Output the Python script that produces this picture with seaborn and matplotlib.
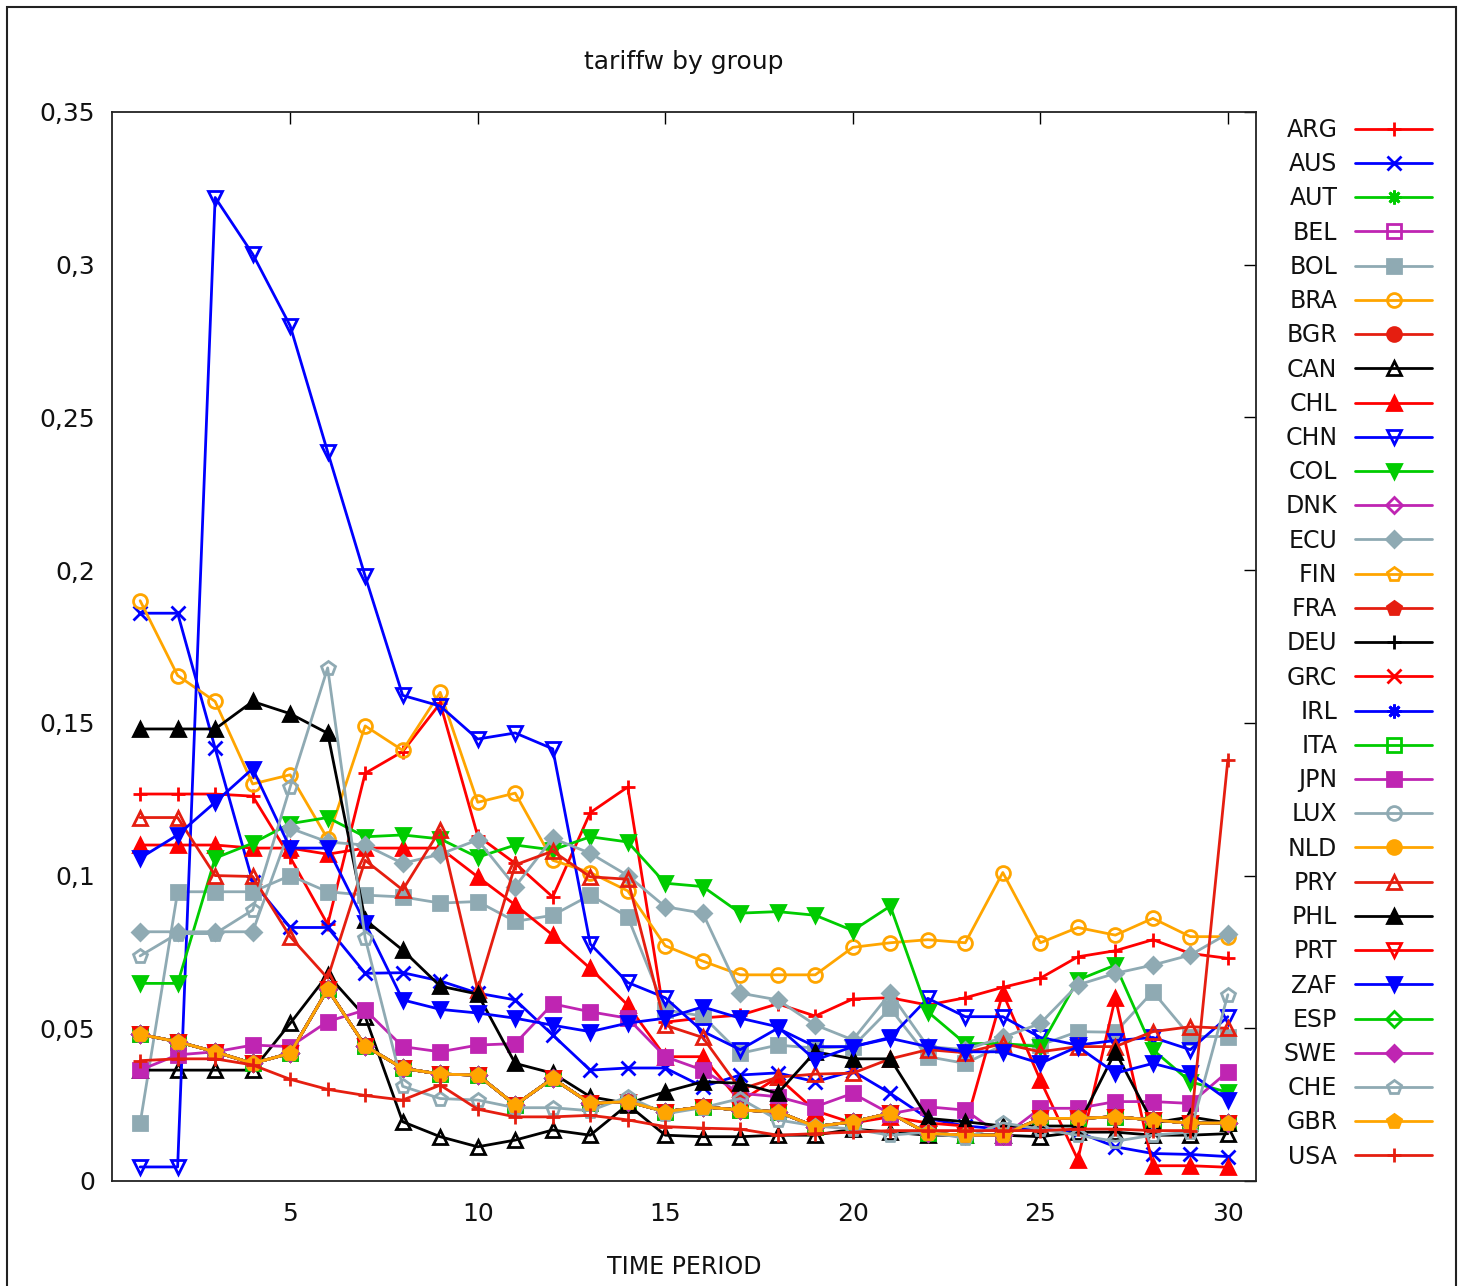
import numpy as np
import pandas as pd
import matplotlib
matplotlib.use("Agg")
import matplotlib.pyplot as plt
import seaborn as sns
from matplotlib.patches import Rectangle

# ---------------------------------------------------------------- data
periods = list(range(1, 31))

countries = ["ARG", "AUS", "AUT", "BEL", "BOL", "BRA", "BGR", "CAN", "CHL", "CHN",
             "COL", "DNK", "ECU", "FIN", "FRA", "DEU", "GRC", "IRL", "ITA", "JPN",
             "LUX", "NLD", "PRY", "PHL", "PRT", "ZAF", "ESP", "SWE", "CHE", "GBR", "USA"]

# common external tariff shared by the EU members
eu_tariff = [0.048, 0.0456, 0.0423, 0.0385, 0.0418, 0.0628, 0.0442, 0.0369, 0.035, 0.0347,
             0.0249, 0.0336, 0.0254, 0.026, 0.0227, 0.0243, 0.0232, 0.0227, 0.0178, 0.0194,
             0.0222, 0.0156, 0.015, 0.015, 0.0205, 0.0205, 0.021, 0.020, 0.0189, 0.019]

arg = [0.1267, 0.1267, 0.1267, 0.126, 0.106, 0.084, 0.1335, 0.1406, 0.1564, 0.113,
       0.104, 0.093, 0.1206, 0.129, 0.052, 0.0534, 0.0543, 0.058, 0.054, 0.0596,
       0.060, 0.0576, 0.060, 0.0634, 0.0664, 0.0734, 0.0754, 0.079, 0.0745, 0.0729]
aus = [0.1859, 0.1859, 0.1417, 0.098, 0.083, 0.083, 0.068, 0.0682, 0.0655, 0.0615,
       0.0593, 0.0478, 0.0363, 0.037, 0.037, 0.0309, 0.0347, 0.0354, 0.0325, 0.036,
       0.0287, 0.0205, 0.018, 0.017, 0.017, 0.016, 0.0112, 0.009, 0.0087, 0.008]
bol = [0.0189, 0.0947, 0.0947, 0.0947, 0.100, 0.0947, 0.0936, 0.093, 0.091, 0.0915,
       0.085, 0.087, 0.0936, 0.0865, 0.056, 0.054, 0.0418, 0.0445, 0.0435, 0.044,
       0.0565, 0.0407, 0.0385, 0.0445, 0.0445, 0.0489, 0.0487, 0.062, 0.0473, 0.0473]
bra = [0.190, 0.1655, 0.157, 0.130, 0.133, 0.112, 0.149, 0.141, 0.160, 0.124,
       0.127, 0.105, 0.101, 0.095, 0.077, 0.072, 0.0675, 0.0675, 0.0675, 0.0765,
       0.078, 0.079, 0.078, 0.101, 0.078, 0.083, 0.0805, 0.086, 0.080, 0.080]
can = [0.0363, 0.0363, 0.0363, 0.0363, 0.0516, 0.0675, 0.0538, 0.0194, 0.0145, 0.0112,
       0.0134, 0.0167, 0.015, 0.025, 0.015, 0.0145, 0.0145, 0.015, 0.015, 0.017,
       0.016, 0.015, 0.015, 0.015, 0.0145, 0.016, 0.016, 0.015, 0.015, 0.0155]
chl = [0.110, 0.110, 0.110, 0.109, 0.109, 0.107, 0.109, 0.109, 0.109, 0.0996,
       0.0904, 0.0805, 0.0696, 0.0576, 0.0407, 0.0407, 0.026, 0.034, 0.023, 0.019,
       0.021, 0.019, 0.018, 0.0615, 0.033, 0.007, 0.060, 0.005, 0.005, 0.0045]
chn = [0.0046, 0.0046, 0.322, 0.3035, 0.280, 0.2387, 0.198, 0.159, 0.1555, 0.1447,
       0.1467, 0.1415, 0.0776, 0.065, 0.060, 0.049, 0.043, 0.050, 0.044, 0.044,
       0.047, 0.0598, 0.0538, 0.0538, 0.047, 0.0445, 0.046, 0.047, 0.043, 0.0538]
col = [0.0647, 0.0647, 0.1057, 0.1106, 0.117, 0.119, 0.1127, 0.1133, 0.112, 0.106,
       0.110, 0.1084, 0.1127, 0.111, 0.0975, 0.0964, 0.0877, 0.0882, 0.087, 0.082,
       0.090, 0.0554, 0.045, 0.045, 0.044, 0.0658, 0.0707, 0.043, 0.0325, 0.029]
ecu = [0.0816, 0.0816, 0.0816, 0.0816, 0.1155, 0.111, 0.110, 0.104, 0.107, 0.1117,
       0.0964, 0.1122, 0.1073, 0.100, 0.0898, 0.0877, 0.0615, 0.0593, 0.0511, 0.0462,
       0.0615, 0.044, 0.043, 0.047, 0.0516, 0.0642, 0.068, 0.0707, 0.074, 0.081]
jpn = [0.0363, 0.0413, 0.0423, 0.0445, 0.044, 0.0522, 0.056, 0.044, 0.0423, 0.0445,
       0.045, 0.058, 0.0554, 0.0533, 0.0407, 0.0363, 0.0287, 0.0276, 0.0243, 0.0287,
       0.022, 0.0243, 0.0232, 0.0145, 0.0238, 0.0238, 0.026, 0.026, 0.0254, 0.0358]
pry = [0.119, 0.119, 0.100, 0.0997, 0.080, 0.0664, 0.105, 0.0953, 0.115, 0.0625,
       0.1035, 0.108, 0.0996, 0.0988, 0.051, 0.047, 0.030, 0.034, 0.035, 0.0353,
       0.040, 0.043, 0.042, 0.045, 0.0423, 0.044, 0.044, 0.0489, 0.0505, 0.050]
phl = [0.148, 0.148, 0.148, 0.157, 0.153, 0.1466, 0.0855, 0.0756, 0.0638, 0.0612,
       0.0385, 0.0353, 0.0276, 0.0254, 0.0292, 0.0325, 0.032, 0.0287, 0.0423, 0.040,
       0.040, 0.0205, 0.0194, 0.018, 0.018, 0.018, 0.0423, 0.019, 0.021, 0.019]
zaf = [0.1057, 0.1133, 0.124, 0.135, 0.109, 0.109, 0.0844, 0.0593, 0.0562, 0.055,
       0.0533, 0.051, 0.0489, 0.0517, 0.0533, 0.057, 0.0533, 0.0505, 0.0396, 0.044,
       0.0467, 0.044, 0.0423, 0.0423, 0.0385, 0.044, 0.0353, 0.0385, 0.0353, 0.0265]
che = [0.0737, 0.081, 0.081, 0.0887, 0.129, 0.168, 0.0795, 0.031, 0.027, 0.0265,
       0.024, 0.024, 0.023, 0.0276, 0.022, 0.024, 0.027, 0.020, 0.018, 0.017,
       0.015, 0.016, 0.014, 0.019, 0.017, 0.015, 0.013, 0.015, 0.016, 0.061]
usa = [0.0394, 0.040, 0.040, 0.038, 0.0333, 0.030, 0.028, 0.0265, 0.0314, 0.0235,
       0.021, 0.021, 0.0215, 0.020, 0.0178, 0.0173, 0.017, 0.015, 0.0155, 0.016,
       0.0165, 0.0165, 0.0165, 0.0165, 0.0165, 0.017, 0.017, 0.0165, 0.0165, 0.138]

eu_members = ["AUT", "BEL", "BGR", "DNK", "FIN", "FRA", "DEU", "GRC", "IRL", "ITA",
              "LUX", "NLD", "PRT", "ESP", "SWE", "GBR"]
series = {"ARG": arg, "AUS": aus, "BOL": bol, "BRA": bra, "CAN": can, "CHL": chl,
          "CHN": chn, "COL": col, "ECU": ecu, "JPN": jpn, "PRY": pry, "PHL": phl,
          "ZAF": zaf, "CHE": che, "USA": usa}
for m in eu_members:
    series[m] = eu_tariff

df = pd.DataFrame([(c, p, v) for c in countries for p, v in zip(periods, series[c])],
                  columns=["group", "period", "tariffw"])

# ---------------------------------------------------------------- style
line_colors = ["#ff0000", "#0000ff", "#00cc00", "#bf25b2",
               "#8faab3", "#ffa500", "#e51e10", "#000000"]
point_types = [("+", True), ("x", True), ((8, 2, 0), True), ("s", False), ("s", True),
               ("o", False), ("o", True), ("^", False), ("^", True), ("v", False),
               ("v", True), ("D", False), ("D", True), ("p", False), ("p", True)]

sns.set_theme(style="white")
plt.rcParams["font.family"] = ["DejaVu Sans"]

W, H = 1463, 1286
fig = plt.figure(figsize=(W / 100, H / 100), dpi=100)
ax = fig.add_axes([112 / W, 1 - 1181 / H, (1256 - 112) / W, (1181 - 112) / H])

for i, name in enumerate(countries):
    color = line_colors[i % 8]
    marker, filled = point_types[i % 15]
    msize = 8.5 if marker == "D" else 10
    sns.lineplot(data=df[df["group"] == name], x="period", y="tariffw", ax=ax,
                 color=color, marker=marker, markersize=msize,
                 markeredgecolor=color,
                 markerfacecolor=color if filled else "none",
                 markeredgewidth=2.0, linewidth=2.0, label=name,
                 errorbar=None, sort=True)

ax.set_xlim(0.25, 30.75)
ax.set_ylim(0, 0.35)
ax.set_xticks([5, 10, 15, 20, 25, 30])
yt = [0, 0.05, 0.1, 0.15, 0.2, 0.25, 0.3, 0.35]
ax.set_yticks(yt)
ax.set_yticklabels(["0", "0,05", "0,1", "0,15", "0,2", "0,25", "0,3", "0,35"])
ax.tick_params(direction="in", length=8.6, width=1.0, color="black",
               top=True, right=True, labelsize=18, labelcolor="#111111")
ax.tick_params(axis="x", pad=15)
ax.tick_params(axis="y", pad=12)
for s in ax.spines.values():
    s.set_color("#222222")
    s.set_linewidth(1.3)
ax.set_xlabel("TIME PERIOD", fontsize=17, color="#111111", labelpad=21)
ax.set_ylabel("")
fig.text(684 / W, 1 - 62 / H, "tariffw by group", ha="center", va="center",
         fontsize=18, color="#111111")

handles, labels = ax.get_legend_handles_labels()
leg = ax.legend(handles, labels, loc="upper right", bbox_to_anchor=(1432 / W, 1 - 118 / H),
                bbox_transform=fig.transFigure, frameon=False, markerfirst=False,
                fontsize=17, handlelength=3.26, handletextpad=0.75,
                labelspacing=0.433, borderpad=0, borderaxespad=0)

# right-align the key labels against the line samples
fig.canvas.draw()
renderer = fig.canvas.get_renderer()
texts = leg.get_texts()
boxes = [t.get_window_extent(renderer) for t in texts]
x_right = max(b.x1 for b in boxes)
for t, b in zip(texts, boxes):
    t.set_visible(False)
    fig.text(x_right / W, b.y0 / H, t.get_text(), ha="right", va="bottom",
             fontsize=17, color="#111111")

fig.patches.append(Rectangle((7 / W, -0.05), (1456 - 7) / W, 1.05 - 7 / H,
                             transform=fig.transFigure, fill=False,
                             linewidth=1.5, edgecolor="#222222"))

fig.savefig("out.png", dpi=100)
